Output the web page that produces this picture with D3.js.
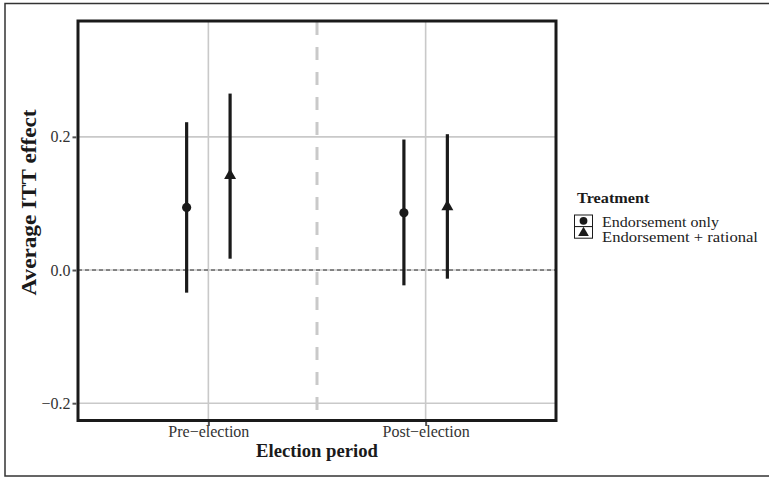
<!DOCTYPE html>
<html><head><meta charset="utf-8">
<script src="https://cdn.jsdelivr.net/npm/d3@7"></script>
<style>body{margin:0;background:#fff}svg{display:block}text{font-family:"Liberation Serif","Times New Roman",serif}</style>
</head><body><svg id="c" width="769" height="478"></svg>
<script>
const periods = ["Pre\u2212election", "Post\u2212election"];
const treatments = ["Endorsement only", "Endorsement + rational"];
const estOnly = [0.094, 0.086];
const estRational = [0.142, 0.095];
const lowOnly = [-0.034, -0.023];
const lowRational = [0.017, -0.013];
const highOnly = [0.222, 0.196];
const highRational = [0.265, 0.204];
const yTicks = [-0.2, 0.0, 0.2];
const yTickLabels = ["\u22120.2", "0.0", "0.2"];

const rows = [];
periods.forEach((p, i) => {
  rows.push({period: p, treat: treatments[0], est: estOnly[i], lo: lowOnly[i], hi: highOnly[i]});
  rows.push({period: p, treat: treatments[1], est: estRational[i], lo: lowRational[i], hi: highRational[i]});
});

const svg = d3.select("#c");
const L = 78, R = 556, T = 21, B = 420.5;
const xPos = d3.scalePoint().domain(periods).range([1, 2]);
const x = d3.scaleLinear().domain([0.4, 2.6]).range([L, R]);
const dodge = d3.scalePoint().domain(treatments).range([-0.1, 0.1]);
const y = d3.scaleLinear().domain([-0.226, 0.374]).range([B, T]);
const ink = "#1a1a1a", grid = "#c9c9c9";

// outer border
svg.append("rect").attr("x", 5).attr("y", 3.5).attr("width", 780).attr("height", 472.5)
  .attr("fill", "none").attr("stroke", "#333").attr("stroke-width", 1.5);

const g = svg.append("g");
// grid
g.selectAll(".hg").data(yTicks).join("line")
  .attr("x1", L).attr("x2", R).attr("y1", d => y(d)).attr("y2", d => y(d))
  .attr("stroke", grid).attr("stroke-width", 1.6);
g.selectAll(".vg").data(periods).join("line")
  .attr("x1", d => x(xPos(d))).attr("x2", d => x(xPos(d))).attr("y1", T).attr("y2", B)
  .attr("stroke", grid).attr("stroke-width", 1.6);
// separator
g.append("line").attr("x1", x(1.5)).attr("x2", x(1.5)).attr("y1", T + 1).attr("y2", B)
  .attr("stroke", grid).attr("stroke-width", 3).attr("stroke-dasharray", "13,12");
// zero line
g.append("line").attr("x1", L).attr("x2", R).attr("y1", y(0)).attr("y2", y(0))
  .attr("stroke", "#333").attr("stroke-width", 1).attr("stroke-dasharray", "4,3");

// error bars
g.selectAll(".eb").data(rows).join("line")
  .attr("x1", d => x(xPos(d.period) + dodge(d.treat)))
  .attr("x2", d => x(xPos(d.period) + dodge(d.treat)))
  .attr("y1", d => y(d.lo)).attr("y2", d => y(d.hi))
  .attr("stroke", ink).attr("stroke-width", 3.2);

const circleSym = d3.symbol().type(d3.symbolCircle).size(66);
const triSym = d3.symbol().type(d3.symbolTriangle).size(62);
const circleKey = d3.symbol().type(d3.symbolCircle).size(48);
const triKey = d3.symbol().type(d3.symbolTriangle).size(50);
g.selectAll(".pt").data(rows).join("path")
  .attr("transform", d => `translate(${x(xPos(d.period) + dodge(d.treat))},${y(d.est)})`)
  .attr("d", d => d.treat === treatments[0] ? circleSym() : triSym())
  .attr("fill", ink);

// panel border
svg.append("rect").attr("x", L).attr("y", T).attr("width", R - L).attr("height", B - T)
  .attr("fill", "none").attr("stroke", ink).attr("stroke-width", 3);

// axes
const yAxis = svg.append("g").attr("transform", `translate(${L - 1.5},0)`)
  .call(d3.axisLeft(y).tickValues(yTicks).tickSize(4).tickPadding(2)
    .tickFormat((d, i) => yTickLabels[i]));
yAxis.select(".domain").remove();
yAxis.selectAll("line").attr("stroke", "#555").attr("stroke-width", 2);
yAxis.selectAll("text").attr("font-size", 16).attr("fill", "#333")
  .attr("font-family", "Liberation Serif");

const xAxis = svg.append("g").attr("transform", `translate(0,${B + 1.5})`)
  .call(d3.axisBottom(x).tickValues(periods.map(p => xPos(p))).tickSize(4).tickPadding(0)
    .tickFormat((d, i) => periods[i]));
xAxis.select(".domain").remove();
xAxis.selectAll("line").attr("stroke", "#555").attr("stroke-width", 2);
xAxis.selectAll("text").attr("font-size", 16).attr("fill", "#333")
  .attr("font-family", "Liberation Serif");

// titles
svg.append("text").attr("x", x(1.5)).attr("y", 456.5).attr("text-anchor", "middle")
  .attr("font-size", 19).attr("font-weight", "bold").attr("fill", ink)
  .attr("textLength", 122).attr("lengthAdjust", "spacingAndGlyphs")
  .text("Election period");
svg.append("text").attr("transform", `translate(36,${(110 + 295) / 2}) rotate(-90)`)
  .attr("text-anchor", "middle").attr("font-size", 20).attr("font-weight", "bold").attr("fill", ink)
  .attr("textLength", 186).attr("lengthAdjust", "spacingAndGlyphs")
  .text("Average ITT effect");

// legend
const lg = svg.append("g");
lg.append("text").attr("x", 577).attr("y", 203).attr("font-size", 15).attr("font-weight", "bold")
  .attr("fill", ink).attr("textLength", 72.5).attr("lengthAdjust", "spacingAndGlyphs")
  .text("Treatment");
const keyW = 18, keyH = 11.6, kx = 574.5, ky = 215;
const labelLen = [117, 156];
const labelBase = [226.7, 242.3];
treatments.forEach((t, i) => {
  const yy = ky + i * keyH;
  lg.append("rect").attr("x", kx).attr("y", yy).attr("width", keyW).attr("height", keyH)
    .attr("fill", "#fff").attr("stroke", ink).attr("stroke-width", 1);
  lg.append("path").attr("transform", `translate(${kx + keyW / 2},${yy + keyH / 2 + (i ? 0.6 : 0)})`)
    .attr("d", i === 0 ? circleKey() : triKey()).attr("fill", ink);
  lg.append("text").attr("x", 602).attr("y", labelBase[i]).attr("font-size", 14.5)
    .attr("fill", "#222").attr("textLength", labelLen[i]).attr("lengthAdjust", "spacingAndGlyphs")
    .text(t);
});
</script></body></html>
